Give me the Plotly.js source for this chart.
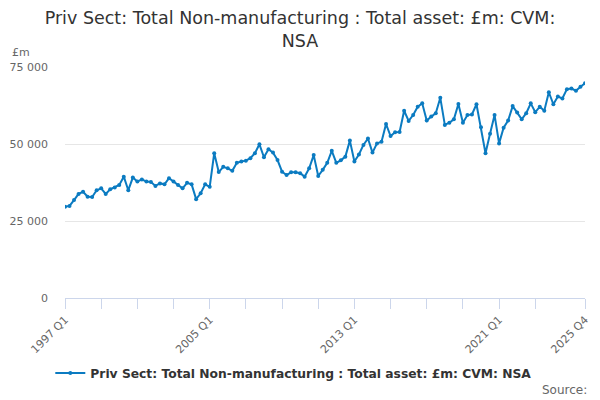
<!DOCTYPE html>
<html>
<head>
<meta charset="utf-8">
<script src="https://cdn.plot.ly/plotly-3.0.1.min.js"></script>
<style>
html,body{margin:0;padding:0;background:#fff;}
#chart{width:600px;height:400px;}
</style>
</head>
<body>
<div id="chart"></div>
<script>
// Quarterly periods 1997 Q1 .. 2025 Q4
var years = [1997,1998,1999,2000,2001,2002,2003,2004,2005,2006,2007,2008,2009,2010,2011,2012,2013,2014,2015,2016,2017,2018,2019,2020,2021,2022,2023,2024,2025];
var quarters = ["Q1","Q2","Q3","Q4"];
var periods = [];
years.forEach(function(y){ quarters.forEach(function(q){ periods.push(y + " " + q); }); });

// Total asset, £m
var values = [
  29600, 29900, 31800, 33800, 34500, 32900, 32800, 35000,
  35600, 33800, 35300, 35900, 36700, 39400, 35000, 39100,
  37800, 38500, 37800, 37700, 36400, 37200, 36900, 38900,
  37800, 36700, 35600, 37400, 36900, 32100, 34000, 36900,
  36100, 47000, 40900, 42600, 42100, 41300, 43900, 44300,
  44600, 45400, 47000, 49900, 45700, 48300, 47200, 44800,
  41000, 39900, 40800, 40800, 40500, 39400, 42100, 46400,
  39600, 41600, 43900, 47800, 43900, 44700, 45900, 51100,
  44300, 46600, 49700, 51800, 47200, 50200, 50700, 56500,
  52600, 53800, 53900, 60800, 57500, 59400, 62100, 63200,
  57600, 58900, 60000, 65000, 56200, 56900, 58000, 63000,
  56900, 59400, 59600, 62900, 55400, 47000, 53300, 59400,
  50200, 55300, 57600, 62300, 60200, 58000, 60000, 63200,
  60300, 62100, 60800, 66800, 62900, 65400, 64800, 67800,
  68000, 67300, 68600, 69700
];

var seriesName = "Priv Sect: Total Non-manufacturing : Total asset: £m: CVM: NSA";
var titleText = "Priv Sect: Total Non-manufacturing : Total asset: £m: CVM:<br>NSA";

var xTickPeriods = ["1997 Q1","1999 Q1","2001 Q1","2003 Q1","2005 Q1","2007 Q1","2009 Q1","2011 Q1","2013 Q1","2015 Q1","2017 Q1","2019 Q1","2021 Q1","2023 Q1","2025 Q4"];
var xTickLabels  = ["1997 Q1","","","","2005 Q1","","","","2013 Q1","","","","2021 Q1","","2025 Q4"];
var yTickVals = [0, 25000, 50000, 75000];
var yTickLabels = ["0", "25 000", "50 000", "75 000"];

var FONT = "DejaVu Sans, Open Sans, sans-serif";

var trace = {
  x: periods,
  y: values,
  type: "scatter",
  mode: "lines+markers",
  name: seriesName,
  line: {color: "#0b7bc1", width: 2},
  marker: {color: "#0b7bc1", size: 4},
  hoverinfo: "x+y"
};

var layout = {
  width: 600,
  height: 400,
  margin: {l: 65, r: 15, t: 67, b: 102},
  paper_bgcolor: "#ffffff",
  plot_bgcolor: "#ffffff",
  font: {family: FONT, color: "#666666", size: 11},
  title: {
    text: titleText,
    font: {family: FONT, size: 17.5, color: "#333333"},
    x: 0.5, xanchor: "center",
    y: 0.94, yanchor: "top"
  },
  showlegend: true,
  legend: {
    orientation: "h",
    x: 0.44, xanchor: "center",
    y: -0.325, yanchor: "middle",
    font: {family: FONT, size: 12.3, color: "#333333", weight: "bold"},
    bgcolor: "rgba(0,0,0,0)"
  },
  xaxis: {
    type: "category",
    categoryorder: "array",
    categoryarray: periods,
    range: [0, periods.length - 1],
    tickmode: "array",
    tickvals: xTickPeriods,
    ticktext: xTickLabels,
    tickangle: -45,
    ticks: "outside",
    ticklen: 10,
    tickcolor: "#ccd6eb",
    tickwidth: 1,
    showline: true,
    linecolor: "#ccd6eb",
    linewidth: 1,
    showgrid: false,
    zeroline: false,
    tickfont: {family: FONT, size: 11, color: "#666666"}
  },
  yaxis: {
    range: [0, 75000],
    tickmode: "array",
    tickvals: yTickVals,
    ticktext: yTickLabels,
    showgrid: true,
    gridcolor: "#e6e6e6",
    gridwidth: 1,
    zeroline: false,
    showline: false,
    ticks: "",
    ticklabelstandoff: 16,
    tickfont: {family: FONT, size: 11, color: "#666666"}
  },
  annotations: [
    {
      text: "£m", xref: "paper", yref: "paper",
      x: -0.106, y: 1.0, xanchor: "left", yanchor: "bottom", yshift: 6,
      showarrow: false, font: {family: FONT, size: 11, color: "#666666"}
    },
    {
      text: "Source:", xref: "paper", yref: "paper",
      x: 1.008, y: -0.398, xanchor: "right", yanchor: "middle",
      showarrow: false, font: {family: FONT, size: 12, color: "#666666"}
    }
  ]
};

Plotly.newPlot("chart", [trace], layout, {displayModeBar: false, staticPlot: true});
</script>
</body>
</html>
